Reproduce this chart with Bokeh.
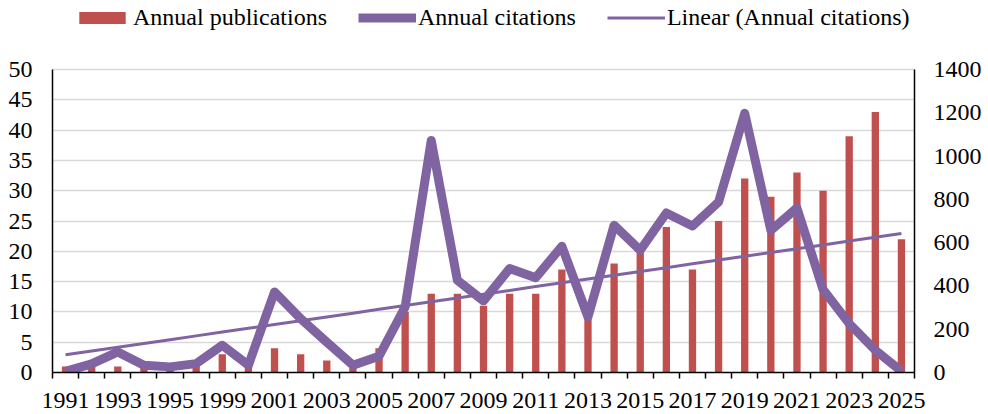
import numpy as np
from bokeh.plotting import figure
from bokeh.models import Range1d, LinearAxis, FixedTicker, Legend, LegendItem, ColumnDataSource
from bokeh.embed import file_html
from bokeh.resources import INLINE

years = ["1991", "1992", "1993", "1994", "1995", "1997", "1999", "2000", "2001", "2002",
         "2003", "2004", "2005", "2006", "2007", "2008", "2009", "2010", "2011", "2012",
         "2013", "2014", "2015", "2016", "2017", "2018", "2019", "2020", "2021", "2022",
         "2023", "2024", "2025"]
publications = [1, 2, 1, 1, 1, 2, 3, 1, 4, 3,
                2, 1, 4, 10, 13, 13, 11, 13, 13, 17,
                9, 18, 20, 24, 17, 25, 32, 29, 33, 30,
                39, 43, 22]
citations = [5, 40, 95, 34, 26, 41, 126, 34, 372, 249,
             140, 34, 75, 303, 1072, 426, 331, 480, 438, 583,
             257, 680, 565, 737, 677, 788, 1198, 657, 760, 383,
             226, 103, 6]
left_ticks = [0, 5, 10, 15, 20, 25, 30, 35, 40, 45, 50]
right_ticks = [0, 200, 400, 600, 800, 1000, 1200, 1400]
left_max = 50
right_max = 1400

n = len(years)
idx = np.arange(n)
coef = np.polyfit(idx, np.array(citations, dtype=float), 1)
trend = np.polyval(coef, idx)

src = ColumnDataSource(dict(x=idx, pub=publications, cit=citations, trend=trend))

FONT = "Liberation Serif"
FS = "24px"
RED = "#C0504D"
PURPLE = "#8064A2"

W, H = 988, 414
BL, BR, BB = 52, 74, 42
frame_h = H - BB
axis_top_px = 69            # pixel row of the top tick (50 / 1400)
head = frame_h / (frame_h - axis_top_px)   # extra head-room for the legend

p = figure(width=W, height=H, output_backend="svg", toolbar_location=None,
           x_range=Range1d(-0.5, n - 0.5), y_range=Range1d(0, left_max * head),
           min_border_left=BL, min_border_right=BR, min_border_top=0, min_border_bottom=BB)
p.extra_y_ranges = {"cit": Range1d(0, right_max * head)}
p.outline_line_color = None
p.background_fill_color = "white"
p.border_fill_color = "white"

bars = p.vbar(x="x", top="pub", width=0.28, source=src, fill_color=RED, line_color=None)
cl = p.line(x="x", y="cit", source=src, y_range_name="cit", line_color=PURPLE, line_width=9,
            line_join="round", line_cap="butt")
tl = p.line(x="x", y="trend", source=src, y_range_name="cit", line_color=PURPLE, line_width=3)

# x axis
xa = p.xaxis[0]
xa.ticker = FixedTicker(ticks=list(idx[::2]), minor_ticks=list(np.arange(n + 1) - 0.5))
xa.major_label_overrides = {int(i): years[i] for i in idx[::2]}
xa.major_tick_out = 0
xa.major_tick_in = 0
xa.minor_tick_out = 6
xa.minor_tick_in = 0
xa.minor_tick_line_color = "black"
xa.minor_tick_line_width = 1.5
xa.axis_line_color = "black"
xa.axis_line_width = 1.5
xa.major_label_standoff = 14
xa.major_label_text_font = FONT
xa.major_label_text_font_size = FS
xa.major_label_text_color = "black"

# left axis
ya = p.yaxis[0]
ya.ticker = FixedTicker(ticks=left_ticks)
ya.bounds = (0, left_max)
ya.major_tick_out = 0
ya.major_tick_in = 0
ya.minor_tick_line_color = None
ya.axis_line_color = "black"
ya.axis_line_width = 1.5
ya.major_label_standoff = 20
ya.major_label_text_font = FONT
ya.major_label_text_font_size = FS
ya.major_label_text_color = "black"

# right axis
ra = LinearAxis(y_range_name="cit", ticker=FixedTicker(ticks=right_ticks), bounds=(0, right_max))
ra.major_tick_out = 0
ra.major_tick_in = 0
ra.minor_tick_line_color = None
ra.axis_line_color = "black"
ra.axis_line_width = 1.5
ra.major_label_standoff = 19
ra.major_label_text_font = FONT
ra.major_label_text_font_size = FS
ra.major_label_text_color = "black"
p.add_layout(ra, "right")

p.xgrid.visible = False
p.ygrid.grid_line_color = "#d9d9d9"
p.ygrid.grid_line_width = 1.5

legend = Legend(items=[LegendItem(label="Annual publications", renderers=[bars]),
                       LegendItem(label="Annual citations", renderers=[cl]),
                       LegendItem(label="Linear (Annual citations)", renderers=[tl])],
                orientation="horizontal", location=(21, frame_h - 31),
                glyph_width=58, glyph_height=15, label_standoff=2, spacing=31,
                padding=0, margin=0, border_line_color=None, background_fill_alpha=0,
                label_text_font=FONT, label_text_font_size=FS, label_text_color="black")
p.add_layout(legend, "center")

open("out.html", "w").write(file_html(p, INLINE))
